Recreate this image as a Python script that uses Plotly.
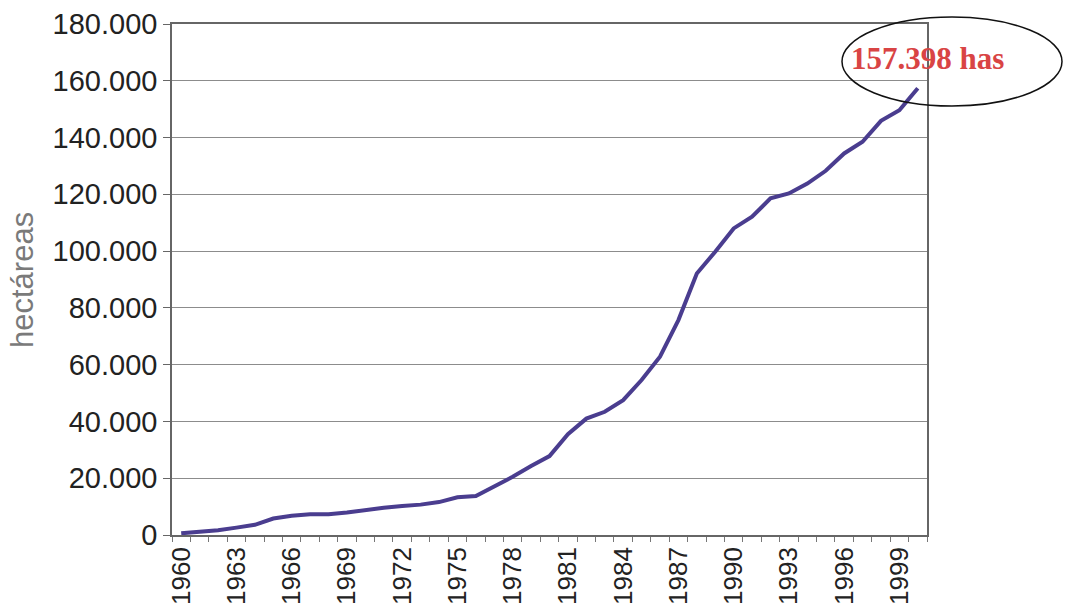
import plotly.graph_objects as go

years = [1960, 1961, 1962, 1963, 1964, 1965, 1966, 1967, 1968, 1969,
         1970, 1971, 1972, 1973, 1974, 1975, 1976, 1977, 1978, 1979,
         1980, 1981, 1982, 1983, 1984, 1985, 1986, 1987, 1988, 1989,
         1990, 1991, 1992, 1993, 1994, 1995, 1996, 1997, 1998, 1999, 2000]
hectareas = [600, 1100, 1700, 2600, 3600, 5800, 6800, 7300, 7300, 7900,
             8800, 9600, 10200, 10700, 11600, 13300, 13700, 17000, 20500, 24300,
             27800, 35500, 41000, 43400, 47500, 54600, 62800, 75700, 92100, 99800,
             108000, 112100, 118600, 120300, 123800, 128300, 134400, 138500, 145900, 149600, 157398]
x_tick_labels = [1960, 1963, 1966, 1969, 1972, 1975, 1978, 1981, 1984, 1987, 1990, 1993, 1996, 1999]
y_ticks = [0, 20000, 40000, 60000, 80000, 100000, 120000, 140000, 160000, 180000]
y_title = "hectáreas"
annotation_text = "157.398 has"

L, R, T, B = 172, 927, 24, 535
W, H = R - L, B - T

fig = go.Figure()
fig.add_trace(go.Scatter(
    x=years, y=hectareas, mode="lines",
    line=dict(color="#4a3d8f", width=4),
    showlegend=False, hoverinfo="x+y"))

fig.update_layout(
    width=1065, height=606,
    margin=dict(l=L, r=1065 - R, t=T, b=606 - B),
    paper_bgcolor="white", plot_bgcolor="white",
    separators=",.",
    font=dict(family="Liberation Sans, Arial, sans-serif", size=28, color="#222222"),
)

fig.update_xaxes(
    range=[years[0] - 0.5, years[-1] + 0.5], automargin=False,
    tickmode="array", tickvals=x_tick_labels, ticktext=[str(v) for v in x_tick_labels],
    tickangle=-90, ticks="", showgrid=False, zeroline=False,
    showline=True, linecolor="#666666", linewidth=1.5, mirror=True,
    tickfont=dict(size=26, color="#222222"),
    minor=dict(tick0=years[0] - 0.5, dtick=1, ticks="outside", ticklen=5,
               tickcolor="#777777", showgrid=False),
)
fig.update_yaxes(
    range=[0, 180000], automargin=False, tickmode="array", tickvals=y_ticks, tickformat=",d",
    ticks="outside", ticklen=7, tickcolor="#666666",
    showgrid=True, gridcolor="#8c8c8c", gridwidth=1, zeroline=False,
    showline=True, linecolor="#666666", linewidth=1.5, mirror=True,
    tickfont=dict(size=29, color="#222222"),
)

fig.add_annotation(xref="paper", yref="paper",
                   x=(22 - L) / W, y=(B - 280) / H, textangle=-90,
                   xanchor="center", yanchor="middle",
                   text=y_title, showarrow=False,
                   font=dict(size=31, color="#7a7a7a"))

fig.add_shape(type="circle", xref="paper", yref="paper",
              x0=(842 - L) / W, x1=(1062 - L) / W,
              y0=(B - 106) / H, y1=(B - 17) / H,
              line=dict(color="#111111", width=1.5))
fig.add_annotation(xref="paper", yref="paper",
                   x=(927 - L) / W, y=(B - 58) / H,
                   xanchor="center", yanchor="middle",
                   text="<b>" + annotation_text + "</b>", showarrow=False,
                   font=dict(family="Liberation Serif, Times New Roman, serif", size=31, color="#d94444"))

fig.write_html("out.html", config={"displayModeBar": False},
               post_script="document.body.style.margin='0';document.body.style.overflow='hidden';")
